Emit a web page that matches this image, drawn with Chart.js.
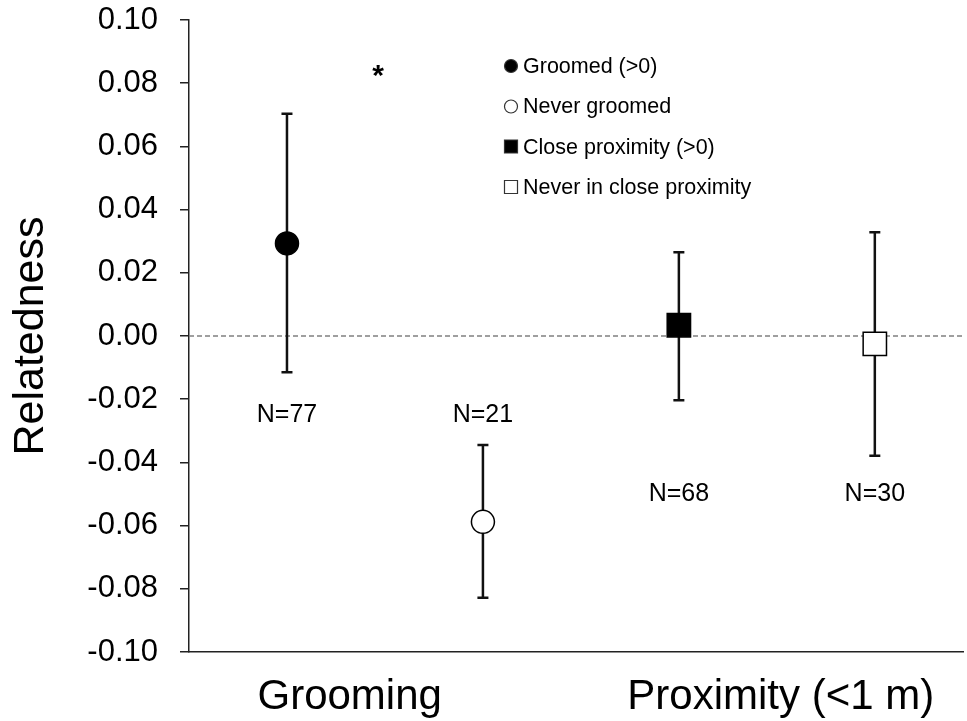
<!DOCTYPE html>
<html>
<head>
<meta charset="utf-8">
<title>Relatedness</title>
<script src="https://cdn.jsdelivr.net/npm/chart.js@4.4.1/dist/chart.umd.min.js"></script>
<style>
  body { margin: 0; background: #fff; }
  #wrap { width: 967px; height: 721px; }
</style>
</head>
<body>
<div id="wrap"><canvas id="chart" width="967" height="721"></canvas></div>
<script>
// data
const groups = ['Grooming', 'Proximity (<1 m)'];
const seriesNames = ['Groomed (>0)', 'Never groomed', 'Close proximity (>0)', 'Never in close proximity'];
const means = [0.0293, -0.0588, 0.0034, -0.0025];
const lowerCI = [-0.0115, -0.0828, -0.0203, -0.0379];
const upperCI = [0.0703, -0.0345, 0.0265, 0.0328];
const sampleSizes = [77, 21, 68, 30];

const FONT = "'Liberation Sans', Arial, Helvetica, sans-serif";

// marker look for each series
const markers = [
    { style: 'circle', fill: '#000', radius: 11.5 },
    { style: 'circle', fill: '#fff', radius: 11.5 },
    { style: 'rect', fill: '#000', radius: 16.5 },
    { style: 'rect', fill: '#fff', radius: 16.5 }
];

// where the group labels sit on the x axis, and the N labels / asterisk
const groupTickAt = [1.32, 3.52];
const nLabelAt = [-0.025, -0.025, -0.05, -0.05];

const datasets = seriesNames.map((name, i) => ({
    label: name,
    data: [{ x: i + 1, y: means[i] }],
    pointStyle: markers[i].style,
    pointRadius: markers[i].radius,
    pointHoverRadius: markers[i].radius,
    backgroundColor: markers[i].fill,
    borderColor: '#000',
    borderWidth: 1.5
}));

const extras = {
    id: 'extras',
    beforeDatasetsDraw(chart) {
        const { ctx, chartArea, scales: { x, y } } = chart;
        ctx.save();

        // dashed zero line
        const y0 = y.getPixelForValue(0);
        ctx.strokeStyle = '#808080';
        ctx.lineWidth = 1.5;
        ctx.setLineDash([5, 3]);
        ctx.beginPath();
        ctx.moveTo(chartArea.left, y0);
        ctx.lineTo(chartArea.right, y0);
        ctx.stroke();
        ctx.setLineDash([]);

        // error bars
        ctx.strokeStyle = '#111';
        ctx.lineWidth = 2.5;
        means.forEach((m, i) => {
            const px = x.getPixelForValue(i + 1);
            const top = y.getPixelForValue(upperCI[i]);
            const bot = y.getPixelForValue(lowerCI[i]);
            ctx.beginPath();
            ctx.moveTo(px, top);
            ctx.lineTo(px, bot);
            ctx.moveTo(px - 5.5, top);
            ctx.lineTo(px + 5.5, top);
            ctx.moveTo(px - 5.5, bot);
            ctx.lineTo(px + 5.5, bot);
            ctx.stroke();
        });
        ctx.restore();
    },
    afterDatasetsDraw(chart) {
        const { ctx, chartArea, scales: { x, y } } = chart;
        ctx.save();
        ctx.fillStyle = '#000';

        // sample sizes
        ctx.font = '25px ' + FONT;
        ctx.textAlign = 'center';
        ctx.textBaseline = 'middle';
        sampleSizes.forEach((n, i) => {
            ctx.fillText('N=' + n, x.getPixelForValue(i + 1), y.getPixelForValue(nLabelAt[i]));
        });

        // significance mark
        ctx.font = 'bold 30px ' + FONT;
        ctx.fillText('*', x.getPixelForValue(1.465), y.getPixelForValue(0.084) + 6);

        // legend
        const lx = chartArea.left + 322;
        const ly = chartArea.top + 47;
        ctx.font = '21.5px ' + FONT;
        ctx.textAlign = 'left';
        seriesNames.forEach((name, i) => {
            const cy = ly + i * 40.5;
            ctx.lineWidth = 1.2;
            ctx.strokeStyle = '#333';
            ctx.fillStyle = markers[i].fill;
            ctx.beginPath();
            if (markers[i].style === 'circle') {
                ctx.arc(lx, cy - 1, 6.5, 0, Math.PI * 2);
            } else {
                ctx.rect(lx - 6.5, cy - 8, 13, 13);
            }
            ctx.fill();
            ctx.stroke();
            ctx.fillStyle = '#000';
            ctx.fillText(name, lx + 12, cy);
        });
        ctx.restore();
    }
};

new Chart(document.getElementById('chart'), {
    type: 'scatter',
    data: { datasets },
    options: {
        responsive: false,
        animation: false,
        layout: { autoPadding: false, padding: { top: 20, right: 4, left: 0, bottom: 0 } },
        plugins: {
            legend: { display: false },
            tooltip: { enabled: false }
        },
        scales: {
            x: {
                type: 'linear',
                min: 0.5,
                max: 4.45,
                afterBuildTicks: s => { s.ticks = groupTickAt.map(v => ({ value: v })); },
                ticks: {
                    callback: (v, i) => groups[i],
                    autoSkip: false,
                    maxRotation: 0,
                    padding: 12,
                    color: '#000',
                    font: { family: FONT, size: 42 }
                },
                grid: { display: false },
                border: { color: '#222', width: 1.5 },
                afterFit: s => { s.height = 69; s.paddingLeft = 0; s.paddingRight = 0; }
            },
            y: {
                min: -0.1,
                max: 0.1,
                ticks: {
                    stepSize: 0.02,
                    callback: v => (Math.abs(v) < 1e-9 ? 0 : v).toFixed(2),
                    padding: 22,
                    color: '#000',
                    font: { family: FONT, size: 31 }
                },
                grid: { drawOnChartArea: false, tickLength: 9, color: '#222', lineWidth: 1.5 },
                border: { color: '#222', width: 1.5 },
                title: {
                    display: true,
                    text: 'Relatedness',
                    color: '#000',
                    padding: { top: 5 },
                    font: { family: FONT, size: 43 }
                },
                afterFit: s => { s.width = 189; s.paddingTop = 0; s.paddingBottom = 0; }
            }
        }
    },
    plugins: [extras]
});
</script>
</body>
</html>
